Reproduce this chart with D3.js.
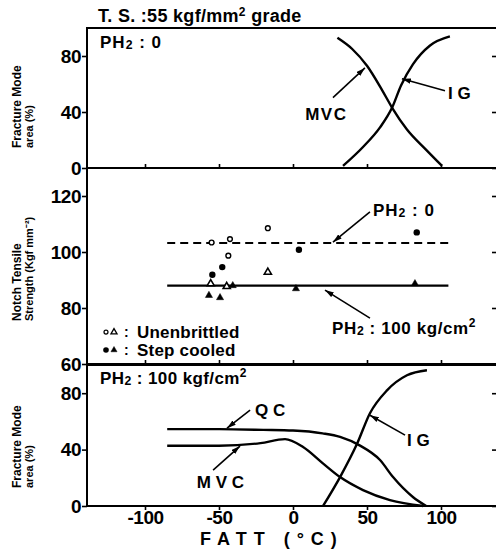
<!DOCTYPE html>
<html><head><meta charset="utf-8">
<script src="https://cdn.jsdelivr.net/npm/d3@7"></script>
<style>
body{margin:0;background:#fff}
svg{display:block}
text{font-family:"Liberation Sans",Arial,sans-serif;font-weight:bold;fill:#000}
</style>
</head><body>
<svg id="c" width="496" height="550"></svg>
<script>
// ---------- data ----------
const xTicks = [-100, -50, 0, 50, 100];
const topTicks = [0, 40, 80];
const midTicks = [60, 80, 100, 120];
const botTicks = [0, 40, 80];

// top panel (PH2 = 0): fracture mode area (%)
const topMVC = [[30,93],[40,85],[50,73],[60,56],[67,43],[77,27.5],[90,13],[100.7,1.5]];
const topIG  = [[33.8,1.5],[47.3,15],[58.8,29],[66.9,43],[73,59],[81,74],[92.6,87.5],[106,94]];

// middle panel: notch tensile strength
const linePH0   = [[-85,103.2],[105,103.2]];
const linePH100 = [[-85,88],[105,88]];
const unembCircle = [[-55,103.4],[-42.6,104.6],[-17,108.5],[-43.7,98.7]];
const stepCircle  = [[-47.8,94.6],[-54.5,91.9],[4,100.8],[83.6,107]];
const unembTri    = [[-55.6,88.7],[-44.8,87.7],[-17,92.8]];
const stepTri     = [[-56.8,84.5],[-49.3,83.7],[-40.7,88],[2,86.9],[82.4,88.7]];

// bottom panel (PH2 = 100 kgf/cm2)
const botQC  = [[-85,54.5],[-50,54.5],[-20,54],[0,53.5],[20,51.5],[31.8,49],[45,43],[58.8,32.6],[67.6,20.5],[81,6.4],[90,0]];
const botMVC = [[-85,42.7],[-50,42.7],[-22,44.6],[-5.4,47.4],[6.8,41.8],[20,30.4],[31.8,20.5],[47.3,11.3],[65.5,4.2],[88,0]];
const botIG  = [[20.3,0],[31.8,20.5],[43.2,43.9],[52,65.8],[63.5,82],[77,92.7],[90.5,96.3]];

// ---------- layout ----------
const svg = d3.select("#c");
const L = 87, R = 499;
const x = d3.scaleLinear().domain([-100,100]).range([145,441]);
const yTop = d3.scaleLinear().domain([0,100]).range([168,28]);
const yMid = d3.scaleLinear().domain([60,130]).range([364,168]);
const yBot = d3.scaleLinear().domain([0,100]).range([506,365]);

const defs = svg.append("defs");
defs.append("marker").attr("id","arr").attr("viewBox","0 0 10 6")
  .attr("refX",10).attr("refY",3).attr("markerWidth",9).attr("markerHeight",6)
  .attr("markerUnits","userSpaceOnUse").attr("orient","auto")
  .append("path").attr("d","M0,0L10,3L0,6Z").attr("fill","#000");

// frames
[yTop, yMid, yBot].forEach(y=>{
  const [y0,y1] = y.range();
  svg.append("rect").attr("x",L).attr("y",y1).attr("width",R-L).attr("height",y0-y1)
    .attr("fill","none").attr("stroke","#000").attr("stroke-width",2);
});

function styleAxis(g, fs){
  g.select(".domain").remove();
  g.selectAll(".tick line").attr("stroke","#000").attr("stroke-width",1.6);
  g.selectAll(".tick text").attr("font-size",fs).attr("font-family","Liberation Sans, Arial, sans-serif")
    .attr("font-weight","bold").attr("letter-spacing","-0.5");
}
const fmt = d => String(d);
// left axes
[[yTop,topTicks],[yMid,midTicks],[yBot,botTicks]].forEach(([y,t])=>{
  const g = svg.append("g").attr("transform",`translate(${L},0)`)
    .call(d3.axisLeft(y).tickValues(t).tickSize(5).tickPadding(1).tickFormat(fmt));
  styleAxis(g,19);
  const g2 = svg.append("g").attr("transform",`translate(${R-2},0)`)
    .call(d3.axisLeft(y).tickValues(t).tickSize(5).tickFormat(""));
  styleAxis(g2,19);
});
// inner x ticks at panel bottoms
[168,364].forEach(yy=>{
  const g = svg.append("g").attr("transform",`translate(0,${yy})`)
    .call(d3.axisTop(x).tickValues(xTicks).tickSize(4).tickFormat(""));
  styleAxis(g,18);
});
const gx = svg.append("g").attr("transform","translate(0,506)")
  .call(d3.axisBottom(x).tickValues(xTicks).tickSize(4).tickPadding(1).tickFormat(fmt));
styleAxis(gx,19);

// ---------- curves ----------
function curve(data, y, dash){
  const p = svg.append("path").datum(data)
    .attr("d", d3.line().x(d=>x(d[0])).y(d=>y(d[1])).curve(d3.curveMonotoneX))
    .attr("fill","none").attr("stroke","#000").attr("stroke-width",2.4);
  if(dash) p.attr("stroke-dasharray",dash).attr("stroke-width",2);
  return p;
}
curve(topMVC, yTop);
curve(topIG, yTop);
curve(linePH0, yMid, "8,5");
curve(linePH100, yMid).attr("stroke-width",2.2);
curve(botQC, yBot);
curve(botMVC, yBot);
curve(botIG, yBot);

// points
function circles(data, filled){
  svg.append("g").selectAll("circle").data(data).join("circle")
    .attr("cx",d=>x(d[0])).attr("cy",d=>yMid(d[1]))
    .attr("r", filled?3.2:2.4)
    .attr("fill", filled?"#000":"#fff").attr("stroke","#000").attr("stroke-width",filled?0:1.4);
}
const tri = d3.symbol().type(d3.symbolTriangle).size(22);
function tris(data, filled){
  svg.append("g").selectAll("path").data(data).join("path")
    .attr("transform",d=>`translate(${x(d[0])},${yMid(d[1])})`)
    .attr("d", tri)
    .attr("fill", filled?"#000":"#fff").attr("stroke","#000").attr("stroke-width",filled?0.5:1.6);
}
circles(unembCircle,false);
circles(stepCircle,true);
tris(unembTri,false);
tris(stepTri,true);

// ---------- text ----------
function ph2(parent, xx, yy, rest, fs, ls){
  const t = parent.append("text").attr("x",xx).attr("y",yy).attr("font-size",fs).attr("letter-spacing",ls||0);
  t.append("tspan").text("PH");
  t.append("tspan").attr("font-size",fs*0.72).attr("dy",1).text("2");
  t.append("tspan").attr("dy",-1).text(rest);
  return t;
}
function leader(y, a, b){
  svg.append("line").attr("x1",x(a[0])).attr("y1",y(a[1])).attr("x2",x(b[0])).attr("y2",y(b[1]))
    .attr("stroke","#000").attr("stroke-width",1.6).attr("marker-end","url(#arr)");
}
function label(y, xv, yv, txt, fs){
  return svg.append("text").attr("x",x(xv)).attr("y",y(yv)).attr("dy","0.36em")
    .attr("font-size",fs).text(txt);
}

// title
svg.append("text").attr("x",98).attr("y",22).attr("font-size",18).attr("letter-spacing","0.3")
  .html('T. S. :55 kgf/mm<tspan font-size="12" dy="-6">2</tspan><tspan dy="6"> grade</tspan>');

// top panel
ph2(svg, 100, 48, " : 0", 17, 1);
label(yTop, 8.2, 39, "MVC", 17).attr("letter-spacing","1.5");
leader(yTop, [27,50.3], [48.6,71.5]);
label(yTop, 104.7, 53.8, "I G", 17);
leader(yTop, [102.7,55.2], [73.6,63.7]);

// middle panel
ph2(svg, x(54), yMid(115)+6, " : 0", 17, 1);
leader(yMid, [52,114.3], [27,103.5]);
const t100 = ph2(svg, x(26.4), yMid(72.9)+6, " : 100 kg/cm", 17, 0.6);
t100.append("tspan").attr("font-size",12).attr("dy",-7).text("2");
leader(yMid, [52,76.4], [21.6,86.4]);

// legend
const lg = [[yMid(71.4), false, "Unenbrittled"],[yMid(65), true, "Step cooled"]];
lg.forEach(([yy, filled, txt])=>{
  svg.append("circle").attr("cx",106).attr("cy",yy).attr("r",filled?2.8:2)
    .attr("fill",filled?"#000":"#fff").attr("stroke","#000").attr("stroke-width",filled?0:1.2);
  svg.append("path").attr("transform",`translate(114,${yy})`).attr("d",d3.symbol().type(d3.symbolTriangle).size(16))
    .attr("fill",filled?"#000":"#fff").attr("stroke","#000").attr("stroke-width",filled?0.5:1.3);
  svg.append("text").attr("x",124).attr("y",yy).attr("dy","0.36em").attr("font-size",14).text(":");
  svg.append("text").attr("x",137).attr("y",yy).attr("dy","0.36em").attr("font-size",17).attr("letter-spacing","0.2").text(txt);
});

// bottom panel
const tb = ph2(svg, 100, yBot(90.6)+6, " : 100 kgf/cm", 17, 0.4);
tb.append("tspan").attr("font-size",12).attr("dy",-7).text("2");
label(yBot, -25.7, 68, "Q C", 17);
leader(yBot, [-29,68], [-44.6,55.2]);
label(yBot, -65, 17, "M V C", 17);
leader(yBot, [-54,25.5], [-35.8,42.5]);
label(yBot, 77, 46.7, "I G", 17);
leader(yBot, [75.7,50.3], [52,64.4]);

// axis titles
svg.append("text").attr("x",200).attr("y",545).attr("font-size",18).attr("letter-spacing","7")
  .text("FATT  (°C)");
function ytitle(xx, yy, txt, fs){
  svg.append("text").attr("transform",`translate(${xx},${yy}) rotate(-90)`).attr("font-size",fs).text(txt);
}
ytitle(21, 148, "Fracture Mode", 12);
ytitle(33, 148, "area (%)", 11);
ytitle(21, 321, "Notch Tensile", 12);
ytitle(33, 321, "Strength (Kgf mm⁻²)", 11);
ytitle(21, 488, "Fracture Mode", 12);
ytitle(33, 488, "area (%)", 11);
</script>
</body></html>
